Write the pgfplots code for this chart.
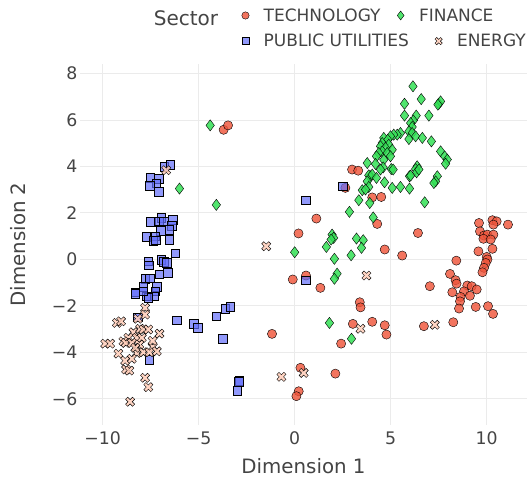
\documentclass[border=0pt]{standalone}
\usepackage{fontspec}
\setmainfont{DejaVu Sans}
\usepackage{pgfplots}
\pgfplotsset{compat=1.18}
\definecolor{textgrey}{HTML}{444444}
\definecolor{gridgrey}{HTML}{EBEBEB}
\definecolor{techc}{HTML}{EF553B}
\definecolor{finc}{HTML}{33E055}
\definecolor{puc}{HTML}{636EFA}
\definecolor{enc}{HTML}{FFCDB8}
\definecolor{edgec}{HTML}{2F4F4F}
\pgfdeclareplotmark{xfill}{%
  \pgfpathmoveto{\pgfqpoint{0.424\pgfplotmarksize}{0pt}}%
  \pgfpathlineto{\pgfqpoint{0.912\pgfplotmarksize}{0.488\pgfplotmarksize}}%
  \pgfpathlineto{\pgfqpoint{0.488\pgfplotmarksize}{0.912\pgfplotmarksize}}%
  \pgfpathlineto{\pgfqpoint{0pt}{0.424\pgfplotmarksize}}%
  \pgfpathlineto{\pgfqpoint{-0.488\pgfplotmarksize}{0.912\pgfplotmarksize}}%
  \pgfpathlineto{\pgfqpoint{-0.912\pgfplotmarksize}{0.488\pgfplotmarksize}}%
  \pgfpathlineto{\pgfqpoint{-0.424\pgfplotmarksize}{0pt}}%
  \pgfpathlineto{\pgfqpoint{-0.912\pgfplotmarksize}{-0.488\pgfplotmarksize}}%
  \pgfpathlineto{\pgfqpoint{-0.488\pgfplotmarksize}{-0.912\pgfplotmarksize}}%
  \pgfpathlineto{\pgfqpoint{0pt}{-0.424\pgfplotmarksize}}%
  \pgfpathlineto{\pgfqpoint{0.488\pgfplotmarksize}{-0.912\pgfplotmarksize}}%
  \pgfpathlineto{\pgfqpoint{0.912\pgfplotmarksize}{-0.488\pgfplotmarksize}}%
  \pgfpathclose
  \pgfusepathqfillstroke}
\pgfplotsset{
  finlegend/.style={legend image code/.code={\draw[##1, overlay, xshift=-38pt, every mark/.append style={scale=0.8}] plot coordinates {(0pt,0pt)};}},
}
\begin{document}
\begin{tikzpicture}
\useasboundingbox (0pt,0pt) rectangle (530pt,478pt);
\begin{axis}[
  at={(80pt,53pt)}, anchor=south west,
  scale only axis, width=447pt, height=361pt,
  xmin=-11.18, xmax=12.1, ymin=-7.12, ymax=8.41,
  axis line style={draw=none},
  major tick length=0pt,
  grid=major, grid style={color=gridgrey, line width=1pt},
  xtick={-10,-5,0,5,10}, xticklabels={−10,−5,0,5,10},
  ytick={-6,-4,-2,0,2,4,6,8}, yticklabels={−6,−4,−2,0,2,4,6,8},
  ticklabel style={font=\fontsize{17.3}{17.3}\selectfont, text=textgrey},
  xticklabel style={yshift=-3pt},
  yticklabel style={xshift=1pt},
  xlabel={Dimension 1}, ylabel={Dimension 2},
  every axis x label/.style={at={(axis description cs:0.5,-0.1136)}, anchor=center, font=\fontsize{19.8}{19.8}\selectfont, text=textgrey},
  every axis y label/.style={at={(axis description cs:-0.1387,0.5)}, anchor=center, rotate=90, font=\fontsize{19.8}{19.8}\selectfont, text=textgrey},
  legend columns=2,
  legend cell align=left,
  legend image code/.code={\draw[#1, every mark/.append style={scale=0.8}] plot coordinates {(0pt,0pt)};},
  legend style={at={(axis description cs:0.3615,1.16)}, anchor=north west, draw=none, fill=none, inner sep=0pt,
    font=\fontsize{17}{17}\selectfont, text=textgrey, row sep=7.5pt, column sep=12.5pt,
    /tikz/every even column/.append style={column sep=24pt}},
  every axis plot/.append style={only marks, mark options={draw=edgec, line width=0.8pt, draw opacity=0.55}},
]
\addplot[mark=*, mark size=4.6pt, mark options={fill=techc, fill opacity=0.82}] coordinates {
(-3.70,5.58) (-3.47,5.77) (0.2,1.12) (-0.10,-0.86) (0.59,-0.69) (-1.18,-3.20) (0.3,-4.66) (0.21,-5.67) (0.09,-5.88)
(2.99,3.87) (3.31,3.82) (2.64,3.08) (4.04,2.67) (4.51,2.69) (1.13,1.76) (4.30,1.53) (6.42,1.14) (4.69,0.43) (5.60,0.17)
(1.34,-1.22) (3.39,-1.84) (3.43,-2.06) (3.03,-2.77) (4.04,-2.68) (4.69,-2.83) (4.78,-3.23) (2.42,-3.62) (6.73,-2.87) (7.04,-1.15) (2.12,-4.91)
(9.60,1.57) (10.30,1.69) (10.52,1.64) (10.35,1.50) (11.11,1.50) (9.65,1.21) (9.86,1.03) (10.04,1.07) (10.35,1.07) (9.83,0.89) (10.21,0.86) (10.30,0.46) (9.57,0.35)
(10.00,0.11) (10.04,0.00) (9.95,-0.15) (9.86,-0.36) (9.78,-0.55) (8.42,-0.05) (8.09,-0.62) (8.38,-0.89) (8.43,-1.04) (8.99,-1.12) (9.22,-1.15) (9.48,-1.29)
(8.82,-1.37) (8.21,-1.41) (8.64,-1.61) (8.61,-1.80) (9.13,-1.56) (8.56,-2.11) (9.43,-2.04) (10.07,-2.01) (10.33,-2.34) (8.26,-2.70)
};
\addlegendentry{TECHNOLOGY}
\addplot[mark=diamond*, mark size=5.6pt, mark options={fill=finc, fill opacity=0.85}, finlegend] coordinates {
(-4.40,5.77) (-4.08,2.35) (-6.00,3.05) (0.00,0.31)
(6.16,7.45) (5.72,6.70) (6.59,6.90) (7.51,6.70) (7.60,6.80) (7.46,6.66) (5.72,6.19) (6.33,6.19) (6.99,6.19) (6.18,5.98) (6.04,5.87) (6.12,5.70) (5.95,5.51) (6.12,5.44)
(5.51,5.44) (5.34,5.37) (5.16,5.37) (4.99,5.30) (5.95,5.18) (6.30,5.30) (6.65,5.23) (7.12,5.08) (7.60,4.65) (7.81,4.44) (7.95,4.30) (7.86,4.12)
(4.64,5.23) (4.85,5.15) (4.56,5.01) (4.47,4.87) (4.90,4.94) (4.73,4.80) (5.08,4.72) (4.56,4.65) (4.82,4.58) (4.99,4.44) (4.64,4.29) (4.38,4.58) (4.26,4.44)
(3.78,4.15) (4.21,4.11) (4.61,3.96) (5.03,3.89) (6.38,4.01) (6.30,3.89) (5.98,3.58) (7.43,3.58) (3.95,3.58)
(4.47,3.87) (3.86,3.62) (4.04,3.65) (4.26,3.51) (3.78,3.36) (3.52,2.98) (3.86,3.12) (3.69,3.01) (4.68,3.32) (5.08,3.08) (5.51,3.12) (5.98,3.05) (6.04,3.61) (6.35,3.75)
(6.77,2.46) (3.34,2.55) (3.91,2.43) (2.85,2.05) (4.09,1.81) (1.95,1.07) (2.03,0.93) (1.90,0.86) (1.65,0.54) (3.22,0.90) (3.57,0.83) (3.48,0.50) (2.94,0.18) (2.07,0.03)
(2.21,-0.61) (2.07,-0.83) (1.81,-2.73) (2.96,-3.41) (6.47,3.87) (7.34,3.36) (7.25,3.29) (5.13,3.87)
};
\addlegendentry[overlay, xshift=-38pt]{FINANCE}
\addplot[mark=square*, mark size=4.3pt, mark options={fill=puc, fill opacity=0.7}] coordinates {
(-6.80,3.98) (-6.48,4.08) (-7.53,3.51) (-7.09,3.48) (-7.21,3.29) (-7.56,3.18) (-7.09,2.91) (-6.95,1.81) (-7.49,1.63) (-7.09,1.64) (-6.83,1.64) (-6.34,1.72) (-6.40,1.46)
(-6.54,1.29) (-6.97,1.24) (-7.74,0.97) (-7.27,1.00) (-7.36,0.81) (-7.23,0.83) (-6.54,0.86) (-6.22,0.27) (-7.62,-0.08) (-7.60,-0.25) (-6.95,-0.02) (-6.83,-0.10) (-6.66,-0.15)
(-7.06,-0.64) (-6.62,-0.58) (-7.79,-0.83) (-7.56,-0.81) (-7.88,-1.18) (-7.18,-1.18) (-8.31,-1.41) (-8.31,-1.48) (-7.27,-1.37) (-7.70,-1.58) (-7.32,-1.58) (-7.62,-1.65) (-7.88,-1.37)
(-8.17,-2.48) (-6.13,-2.61) (-5.27,-2.76) (-5.06,-2.94) (-7.58,-4.30) (-4.08,-2.44) (-3.61,-2.11) (-3.35,-2.04) (-3.74,-3.41) (-2.88,-5.21) (-2.92,-5.26) (-3.00,-5.65)
(0.56,-0.89) (0.56,2.55) (2.50,3.15)
};
\addlegendentry{PUBLIC UTILITIES}
\addplot[mark=xfill, mark size=5pt, mark options={fill=enc, fill opacity=0.85}] coordinates {
(-6.69,3.84) (-1.48,0.57) (-0.69,-5.05) (0.47,-4.88) (3.74,-0.69) (3.43,-2.98) (7.30,-2.81)
(-7.79,-2.08) (-7.79,-2.37) (-8.17,-2.55) (-9.26,-2.73) (-9.04,-2.66) (-7.04,-3.19) (-8.40,-3.13) (-8.05,-2.98) (-7.88,-3.01) (-7.62,-3.01)
(-8.66,-3.37) (-8.92,-3.52) (-8.22,-3.37) (-7.96,-3.37) (-9.87,-3.62) (-9.61,-3.62) (-8.80,-3.59) (-8.48,-3.59) (-8.09,-3.66) (-7.39,-3.76)
(-9.18,-4.05) (-8.22,-4.02) (-7.88,-3.99) (-7.56,-3.99) (-7.18,-3.95) (-8.83,-4.35) (-8.48,-4.27) (-8.78,-4.73) (-8.61,-4.78) (-7.79,-5.09) (-7.62,-5.49) (-8.57,-6.12)
(-8.30,-3.80) (-7.40,-3.50)
};
\addlegendentry{ENERGY}
\end{axis}
\node[font=\fontsize{20}{20}\selectfont, text=textgrey] at (186pt,460pt) {Sector};
\end{tikzpicture}
\end{document}
